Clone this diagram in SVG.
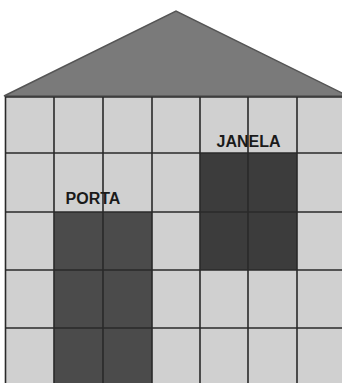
<svg xmlns="http://www.w3.org/2000/svg" width="342" height="383" viewBox="0 0 342 383">
<style>
.cell{fill:#d0d0d0}
.grid{stroke:#2a2a2a;stroke-width:1.6;fill:none}
.lbl{font-family:"Liberation Sans",Arial,sans-serif;font-weight:bold;font-size:16px;fill:#1a1a1a;text-anchor:middle}
</style>
<rect width="342" height="383" fill="#ffffff"/>
<g id="roof">
<polygon points="4,96 176,11 348,96" fill="#7a7a7a" stroke="#555555" stroke-width="1.5"/>
</g>
<g id="wall">
<rect class="cell" x="5.5" y="97" width="342" height="290"/>
</g>
<g id="porta">
<rect x="54" y="212" width="98" height="175" fill="#4b4b4b"/>
</g>
<g id="janela">
<rect x="200" y="153" width="97" height="117" fill="#3c3c3c"/>
</g>
<g id="connectors" class="grid">
<path d="M5.5,97 V390 M54,97 V390 M103,97 V390 M152,97 V390 M200,97 V390 M248,97 V390 M297,97 V390"/>
<path d="M5,97 H348 M5,153 H348 M5,212 H348 M5,270 H348 M5,328 H348"/>
</g>
<g id="labels">
<text class="lbl" x="93" y="204">PORTA</text>
<text class="lbl" x="248.5" y="147">JANELA</text>
</g>
</svg>
